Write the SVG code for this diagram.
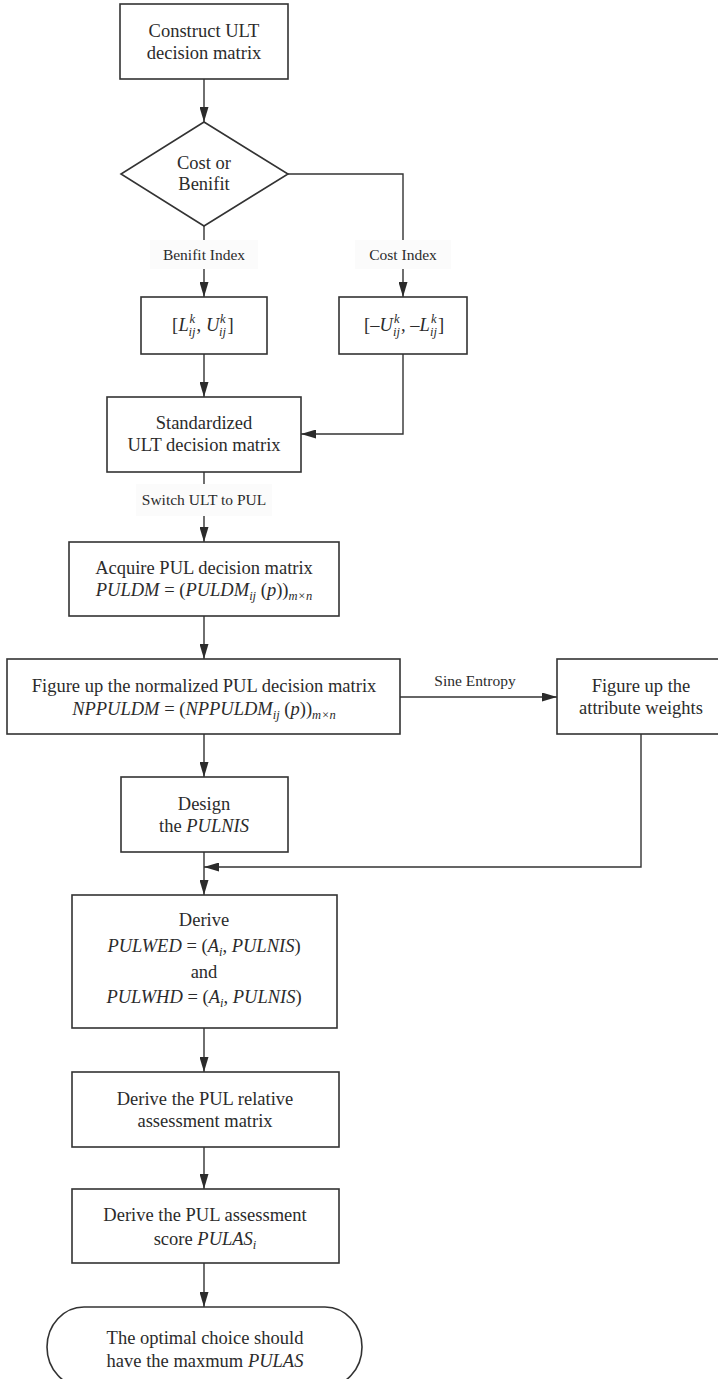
<svg xmlns="http://www.w3.org/2000/svg" width="718" height="1379" viewBox="0 0 718 1379">
<style>
.t{font-family:"Liberation Serif","Times New Roman",serif;font-size:18.5px;fill:#2b2b2b}
.c{text-anchor:middle}
.l{font-family:"Liberation Serif","Times New Roman",serif;font-size:15.5px;fill:#2b2b2b;text-anchor:middle}
.i{font-style:italic}
.s{font-size:12.5px}
.b{fill:#fff;stroke:#333;stroke-width:1.6}
.e{fill:none;stroke:#333;stroke-width:1.4}
.bg{fill:#fbfbfb}
</style>
<defs>
<marker id="ah" viewBox="0 0 15 9" refX="15" refY="4.5" markerWidth="15" markerHeight="9" markerUnits="userSpaceOnUse" orient="auto">
<path d="M0,0 L15,4.5 L0,9 z" fill="#2b2b2b"/>
</marker>
</defs>
<g id="connectors">
<line class="e" x1="204" y1="79" x2="204" y2="122" marker-end="url(#ah)"/>
<line class="e" x1="204" y1="226" x2="204" y2="297" marker-end="url(#ah)"/>
<polyline class="e" points="288,174 403,174 403,297" marker-end="url(#ah)"/>
<line class="e" x1="204" y1="354" x2="204" y2="397" marker-end="url(#ah)"/>
<polyline class="e" points="403,354 403,434 301,434" marker-end="url(#ah)"/>
<line class="e" x1="204" y1="472" x2="204" y2="542" marker-end="url(#ah)"/>
<line class="e" x1="204" y1="616" x2="204" y2="659" marker-end="url(#ah)"/>
<line class="e" x1="400" y1="697" x2="557" y2="697" marker-end="url(#ah)"/>
<line class="e" x1="204" y1="734" x2="204" y2="777" marker-end="url(#ah)"/>
<polyline class="e" points="641,734 641,867 204,867" marker-end="url(#ah)"/>
<line class="e" x1="204" y1="852" x2="204" y2="895" marker-end="url(#ah)"/>
<line class="e" x1="204" y1="1028" x2="204" y2="1072" marker-end="url(#ah)"/>
<line class="e" x1="204" y1="1147" x2="204" y2="1189" marker-end="url(#ah)"/>
<line class="e" x1="204" y1="1263" x2="204" y2="1307" marker-end="url(#ah)"/>
<rect class="bg" x="150" y="240" width="108" height="29"/>
<text class="l" x="204" y="260">Benifit Index</text>
<rect class="bg" x="355" y="240" width="96" height="29"/>
<text class="l" x="403" y="260">Cost Index</text>
<rect class="bg" x="136" y="484" width="136" height="32"/>
<text class="l" x="204" y="505">Switch ULT to PUL</text>
<text class="l" x="475" y="686">Sine Entropy</text>
</g>
<g id="n1">
<rect class="b" x="120" y="4" width="168" height="75"/>
<text class="t c" x="204" y="37">Construct ULT</text>
<text class="t c" x="204" y="59">decision matrix</text>
</g>
<g id="n2">
<polygon class="b" points="204,122 288,174 204,226 121,174"/>
<text class="t c" x="204" y="169">Cost or</text>
<text class="t c" x="204" y="190">Benifit</text>
</g>
<g id="n3">
<rect class="b" x="141" y="297" width="126" height="57"/>
<text class="t" y="331"><tspan x="172">[</tspan><tspan x="178.5" class="i">L</tspan><tspan x="189.5" y="323" class="i s">k</tspan><tspan x="188.5" y="336" class="i s">ij</tspan><tspan x="196.5" y="331">,</tspan><tspan x="206" class="i">U</tspan><tspan x="220" y="323" class="i s">k</tspan><tspan x="219" y="336" class="i s">ij</tspan><tspan x="227.5" y="331">]</tspan></text>
</g>
<g id="n4">
<rect class="b" x="339" y="297" width="128" height="57"/>
<text class="t" y="331"><tspan x="364">[–</tspan><tspan x="379.5" class="i">U</tspan><tspan x="394" y="323" class="i s">k</tspan><tspan x="393" y="336" class="i s">ij</tspan><tspan x="401" y="331">, –</tspan><tspan x="419.5" class="i">L</tspan><tspan x="431" y="323" class="i s">k</tspan><tspan x="430" y="336" class="i s">ij</tspan><tspan x="438" y="331">]</tspan></text>
</g>
<g id="n5">
<rect class="b" x="107" y="397" width="194" height="75"/>
<text class="t c" x="204" y="429">Standardized</text>
<text class="t c" x="204" y="451">ULT decision matrix</text>
</g>
<g id="n6">
<rect class="b" x="69" y="542" width="270" height="74"/>
<text class="t c" x="204" y="574">Acquire PUL decision matrix</text>
<text class="t c" x="204" y="596"><tspan class="i">PULDM</tspan> = (<tspan class="i">PULDM</tspan><tspan class="i s" dy="4">ij</tspan><tspan dy="-4"> (</tspan><tspan class="i">p</tspan>))<tspan class="i s" dy="4">m×n</tspan></text>
</g>
<g id="n7">
<rect class="b" x="7" y="659" width="393" height="75"/>
<text class="t c" x="204" y="692">Figure up the normalized PUL decision matrix</text>
<text class="t c" x="204" y="715"><tspan class="i">NPPULDM</tspan> = (<tspan class="i">NPPULDM</tspan><tspan class="i s" dy="4">ij</tspan><tspan dy="-4"> (</tspan><tspan class="i">p</tspan>))<tspan class="i s" dy="4">m×n</tspan></text>
</g>
<g id="n8">
<rect class="b" x="557" y="659" width="168" height="75"/>
<text class="t c" x="641" y="692">Figure up the</text>
<text class="t c" x="641" y="714">attribute weights</text>
</g>
<g id="n9">
<rect class="b" x="121" y="777" width="167" height="75"/>
<text class="t c" x="204" y="810">Design</text>
<text class="t c" x="204" y="832">the <tspan class="i">PULNIS</tspan></text>
</g>
<g id="n10">
<rect class="b" x="72" y="895" width="265" height="133"/>
<text class="t c" x="204" y="926">Derive</text>
<text class="t c" x="204" y="952"><tspan class="i">PULWED</tspan> = (<tspan class="i">A</tspan><tspan class="i s" dy="4">i</tspan><tspan dy="-4">, </tspan><tspan class="i">PULNIS</tspan>)</text>
<text class="t c" x="204" y="978">and</text>
<text class="t c" x="204" y="1003"><tspan class="i">PULWHD</tspan> = (<tspan class="i">A</tspan><tspan class="i s" dy="4">i</tspan><tspan dy="-4">, </tspan><tspan class="i">PULNIS</tspan>)</text>
</g>
<g id="n11">
<rect class="b" x="72" y="1072" width="267" height="75"/>
<text class="t c" x="205" y="1105">Derive the PUL relative</text>
<text class="t c" x="205" y="1127">assessment matrix</text>
</g>
<g id="n12">
<rect class="b" x="72" y="1189" width="267" height="74"/>
<text class="t c" x="205" y="1221">Derive the PUL assessment</text>
<text class="t c" x="205" y="1245">score <tspan class="i">PULAS</tspan><tspan class="i s" dy="4">i</tspan></text>
</g>
<g id="n13">
<path class="b" d="M84,1307 H325 A37,40 0 0 1 325,1387 H84 A37,40 0 0 1 84,1307 Z"/>
<text class="t c" x="205" y="1344">The optimal choice should</text>
<text class="t c" x="205" y="1367">have the maxmum <tspan class="i">PULAS</tspan></text>
</g>
</svg>
